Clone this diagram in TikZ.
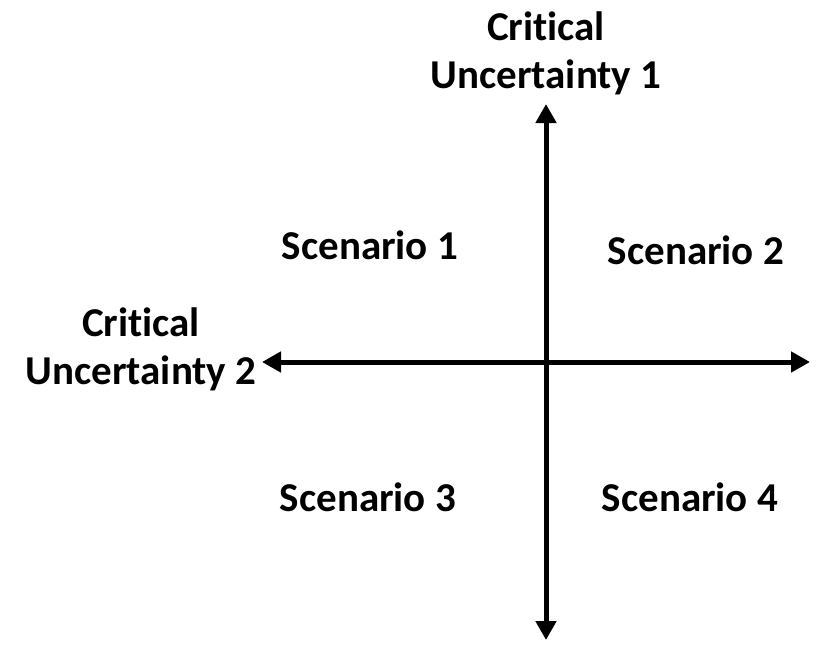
\documentclass[tikz,border=0pt]{standalone}
\usepackage{fontspec}
\setmainfont{Carlito}[Ligatures=NoCommon]
\usetikzlibrary{arrows.meta}
\begin{document}
\begin{tikzpicture}[x=1pt,y=-1pt,
  lbl/.style={font=\bfseries\fontsize{41}{48}\selectfont, align=center, inner sep=0pt},
  axis/.style={line width=5pt, {Triangle[length=19pt,width=20pt]}-{Triangle[length=19pt,width=20pt]}}]
\useasboundingbox (0,0) rectangle (825,653);
\coordinate (top) at (546,104);
\coordinate (bot) at (546,640);
\coordinate (lft) at (262,362);
\coordinate (rgt) at (810,362);
\draw[axis] (top) -- (bot);
\draw[axis] (lft) -- (rgt);
\node[lbl] (cu1) at (546,53) {Critical\\Uncertainty 1};
\node[lbl] (cu2) at (141,349) {Critical\\Uncertainty 2};
\node[lbl] (s1) at (370,245) {Scenario 1};
\node[lbl] (s2) at (696,250) {Scenario 2};
\node[lbl] (s3) at (368,497) {Scenario 3};
\node[lbl] (s4) at (690,497) {Scenario 4};
\end{tikzpicture}
\end{document}
